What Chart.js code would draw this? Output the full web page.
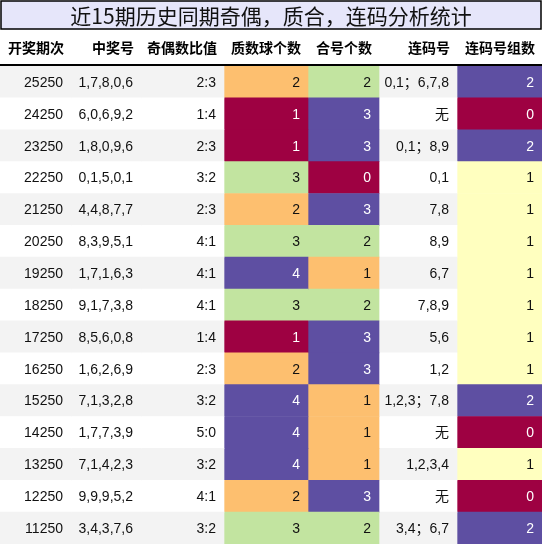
<!DOCTYPE html>
<html><head><meta charset="utf-8">
<script src="https://cdn.jsdelivr.net/npm/chart.js@4"></script>
<style>html,body{margin:0;padding:0;background:#fff}#w{width:542px;height:544px}</style>
</head><body><div id="w"><canvas id="c" width="542" height="544"></canvas></div>
<script>
const title = "近15期历史同期奇偶，质合，连码分析统计";
const headers = ["开奖期次","中奖号","奇偶数比值","质数球个数","合号个数","连码号","连码号组数"];
const periods = ["25250","24250","23250","22250","21250","20250","19250","18250","17250","16250","15250","14250","13250","12250","11250"];
const numbers = ["1,7,8,0,6","6,0,6,9,2","1,8,0,9,6","0,1,5,0,1","4,4,8,7,7","8,3,9,5,1","1,7,1,6,3","9,1,7,3,8","8,5,6,0,8","1,6,2,6,9","7,1,3,2,8","1,7,7,3,9","7,1,4,2,3","9,9,9,5,2","3,4,3,7,6"];
const ratios = ["2:3","1:4","2:3","3:2","2:3","4:1","4:1","4:1","1:4","2:3","3:2","5:0","3:2","4:1","3:2"];
const primes = [2,1,1,3,2,3,4,3,1,2,4,4,4,2,3];
const composites = [2,3,3,0,3,2,1,2,3,3,1,1,1,3,2];
const consec = ["0,1；6,7,8","无","0,1；8,9","0,1","7,8","8,9","6,7","7,8,9","5,6","1,2","1,2,3；7,8","无","1,2,3,4","无","3,4；6,7"];
const groups = [2,0,2,1,1,1,1,1,1,1,2,0,1,0,2];

const edges = [0,71,141,224,308,379,457,542];
const CR="#9e0142", OR="#fdbf6f", GR="#c2e4a0", PU="#5e4fa2", YE="#ffffbf";
const primeCol = v => [null,CR,OR,GR,PU][v];
const compCol = v => [CR,OR,GR,PU][v];
const grpCol = v => [CR,YE,PU][v];
const plain = i => i%2===0 ? "#f3f3f3" : "#ffffff";
const dark = c => c===CR||c===PU;

const cellColors = [
  periods.map((_,i)=>plain(i)),
  periods.map((_,i)=>plain(i)),
  periods.map((_,i)=>plain(i)),
  primes.map(primeCol),
  composites.map(compCol),
  periods.map((_,i)=>plain(i)),
  groups.map(grpCol)
];
const cellText = [periods, numbers, ratios, primes.map(String), composites.map(String), consec, groups.map(String)];

const datasets = cellColors.map((cols,ci)=>({
  data: periods.map(()=>[edges[ci],edges[ci+1]]),
  backgroundColor: cols, borderWidth:0, barPercentage:1, categoryPercentage:1, grouped:false
}));

const textPlugin = {
  id:'tbl',
  afterDatasetsDraw(chart){
    const ctx=chart.ctx, y=chart.scales.y;
    ctx.save();
    ctx.fillStyle="#e6e6fa"; ctx.fillRect(1,1,540,28);
    ctx.strokeStyle="#000"; ctx.lineWidth=1.5; ctx.strokeRect(1,1,540,28);
    ctx.fillStyle="#111"; ctx.font='21px "Noto Sans CJK SC"'; ctx.textAlign="center"; ctx.textBaseline="middle";
    ctx.fillText(title,271,16);
    ctx.font='bold 14px "Noto Sans CJK SC"'; ctx.textAlign="right"; ctx.fillStyle="#000";
    headers.forEach((h,ci)=>ctx.fillText(h,edges[ci+1]-7,48));
    ctx.fillRect(0,64,542,2);
    ctx.font='14px "Liberation Sans", "Noto Sans CJK SC"';
    periods.forEach((_,ri)=>{
      const py=y.getPixelForValue(ri);
      cellText.forEach((col,ci)=>{
        ctx.fillStyle = dark(cellColors[ci][ri]) ? "#ffffff" : "#111111";
        ctx.fillText(col[ri],edges[ci+1]-8,py+1);
      });
    });
    ctx.restore();
  }
};

new Chart(document.getElementById('c'),{
  type:'bar',
  data:{labels:periods,datasets},
  options:{
    indexAxis:'y', responsive:false, animation:false,
    layout:{padding:{top:66,left:0,right:0,bottom:0}},
    plugins:{legend:{display:false},tooltip:{enabled:false},title:{display:false}},
    scales:{
      x:{type:'linear',min:0,max:542,display:false},
      y:{type:'category',display:false,offset:true,stacked:false}
    }
  },
  plugins:[textPlugin]
});
</script></body></html>
